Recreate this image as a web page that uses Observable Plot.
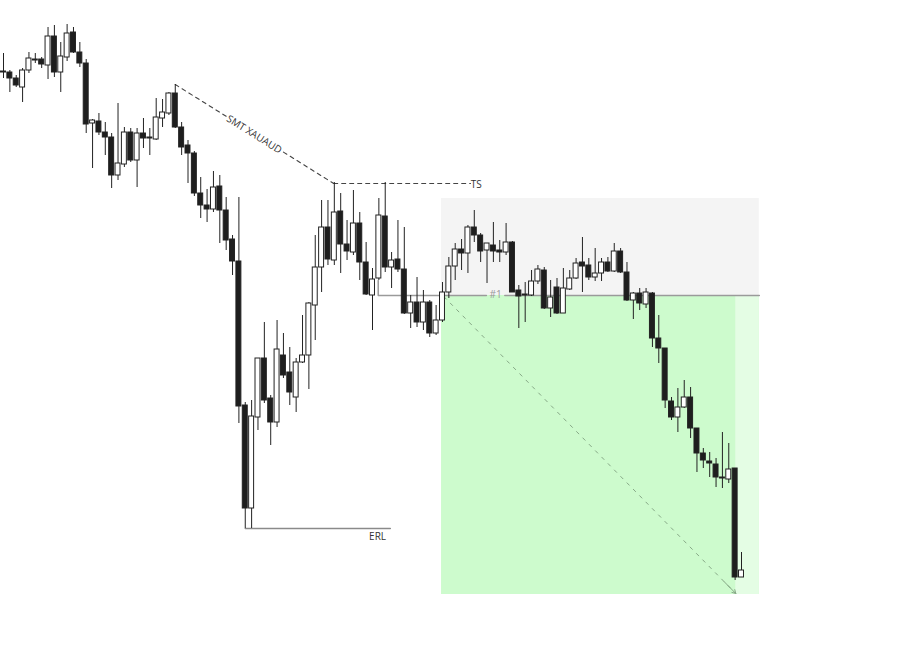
<!DOCTYPE html>
<html>
<head>
<meta charset="utf-8">
<script src="https://cdn.jsdelivr.net/npm/d3@7"></script>
<script src="https://cdn.jsdelivr.net/npm/@observablehq/plot@0.6"></script>
<style>
  html, body { margin: 0; padding: 0; background: #ffffff; }
  #chart svg { display: block; }
</style>
</head>
<body>
<div id="chart"></div>
<script>
// Candle data (price units)
const opens  = [588,588,582,573,590,600,601,595,624,588,603,628,608,597,537,539,528,523,485,496,528,500,527,522,521,542,547,567,533,515,507,467,455,451,474,450,421,399,255,152,243,302,262,238,305,288,263,298,305,355,393,433,400,449,416,408,437,398,365,382,444,393,401,391,347,358,338,358,327,340,368,394,411,407,433,425,410,415,410,408,418,370,365,365,379,390,352,373,347,371,382,398,395,383,387,398,389,409,388,360,367,356,367,322,312,259,243,253,263,232,207,199,196,183,181,192,83];
const highs  = [607,590,585,592,608,607,603,633,635,618,636,633,618,601,541,547,538,527,557,533,532,532,542,532,562,561,568,576,538,520,509,483,471,489,485,463,425,463,258,260,302,338,265,340,327,313,302,345,358,425,460,460,478,467,440,470,448,418,392,462,478,408,440,433,365,383,370,360,355,378,403,417,421,435,450,427,417,438,420,437,419,375,378,390,395,393,380,382,392,390,402,423,402,412,402,403,417,412,398,368,372,372,368,345,312,263,272,280,273,232,212,208,202,228,217,192,108];
const lows   = [582,568,573,558,587,597,592,581,583,568,599,607,593,527,492,525,505,472,480,493,498,473,512,505,520,533,545,532,505,477,464,442,438,448,417,410,385,237,132,132,230,257,215,233,282,255,248,297,271,320,368,395,395,387,400,405,380,365,330,380,388,372,388,346,332,333,330,323,325,338,362,380,390,387,418,398,377,398,398,405,368,332,338,364,376,351,343,346,347,370,381,368,380,379,379,388,388,387,359,341,350,352,313,297,252,240,228,252,222,188,192,183,173,172,177,80,83];
const closes = [589,582,575,590,602,601,596,624,588,604,627,608,597,536,540,528,523,485,497,528,500,527,522,523,543,548,567,533,513,507,467,455,451,473,450,420,399,254,152,244,302,260,238,311,285,268,298,305,357,393,433,401,448,416,409,437,398,366,381,445,393,400,391,347,358,338,358,327,340,368,394,411,407,433,425,409,417,409,408,418,368,364,366,379,391,352,363,347,372,382,397,394,383,387,398,389,409,388,360,367,357,368,322,312,260,243,253,263,232,207,200,197,183,182,191,83,90];

// Annotation levels (candle index / price units)
const smtLineA  = [{i: 27, p: 576}, {i: 35.0, p: 544.2}];
const smtLineB  = [{i: 44.0, p: 508.4}, {i: 51.9, p: 477}];
const tsLine    = [{i: 51.9, p: 477}, {i: 73.4, p: 477}];
const erlLine   = [{i: 38, p: 132}, {i: 60.8, p: 132}];
const entryLineA = [{i: 58.9, p: 380}, {i: 58.9, p: 365}, {i: 75.9, p: 365}];
const entryLineB = [{i: 78.8, p: 365}, {i: 118.8, p: 365}];
const riskBox   = [{x1: 68.85, x2: 118.8, y1: 365, y2: 462}];
const rewardBox = [{x1: 68.85, x2: 118.8, y1: 66, y2: 365}];
const rewardTail = [{x1: 115.1, x2: 118.8, y1: 66, y2: 365}];
const targetPath = {x1: 69.2, y1: 364, x2: 115.1, y2: 67};
const labels = [
  {i: 39.4, p: 526, text: "SMT XAUAUD", rotate: 32, anchor: "middle", color: "#333"},
  {i: 74.3, p: 476, text: "TS", rotate: 0, anchor: "start", color: "#333"},
  {i: 77.35, p: 366, text: "#1", rotate: 0, anchor: "middle", color: "#999"},
  {i: 58.8, p: 124, text: "ERL", rotate: 0, anchor: "middle", color: "#333"}
];

const candles = opens.map((o, i) => ({
  i, open: o, high: highs[i], low: lows[i], close: closes[i],
  up: closes[i] >= o
}));

const t = 0.04;
const arrowTip = [{
  x1: targetPath.x2 - (targetPath.x2 - targetPath.x1) * t,
  y1: targetPath.y2 - (targetPath.y2 - targetPath.y1) * t,
  x2: targetPath.x2, y2: targetPath.y2
}];

const chart = Plot.plot({
  width: 918,
  height: 660,
  margin: 0,
  style: {background: "#ffffff", fontFamily: "'Open Sans', 'Liberation Sans', sans-serif"},
  x: {type: "linear", domain: [0, 116], range: [3, 741], axis: null},
  y: {type: "linear", domain: [0, 660], range: [660, 0], axis: null},
  marks: [
    Plot.rect(riskBox, {x1: "x1", x2: "x2", y1: "y1", y2: "y2", fill: "#f4f4f4"}),
    Plot.rect(rewardBox, {x1: "x1", x2: "x2", y1: "y1", y2: "y2", fill: "#cdfbcd"}),
    Plot.rect(rewardTail, {x1: "x1", x2: "x2", y1: "y1", y2: "y2", fill: "#e4fde4"}),
    Plot.line(entryLineA, {x: "i", y: "p", stroke: "#9a9a9a", strokeWidth: 1.5}),
    Plot.line(entryLineB, {x: "i", y: "p", stroke: "#9a9a9a", strokeWidth: 1.5}),
    Plot.line(erlLine, {x: "i", y: "p", stroke: "#8a8a8a", strokeWidth: 1.5}),
    Plot.line(smtLineA, {x: "i", y: "p", stroke: "#444", strokeWidth: 1.1, strokeDasharray: "4,4"}),
    Plot.line(smtLineB, {x: "i", y: "p", stroke: "#444", strokeWidth: 1.1, strokeDasharray: "4,4"}),
    Plot.line(tsLine, {x: "i", y: "p", stroke: "#444", strokeWidth: 1.1, strokeDasharray: "4,4"}),
    Plot.link([targetPath], {x1: "x1", y1: "y1", x2: "x2", y2: "y2", stroke: "#86a886", strokeWidth: 1, strokeDasharray: "4,5"}),
    Plot.arrow(arrowTip, {x1: "x1", y1: "y1", x2: "x2", y2: "y2", stroke: "#86a886", strokeWidth: 1, headLength: 6}),
    Plot.ruleX(candles, {x: "i", y1: "low", y2: "high", stroke: "#222", strokeWidth: 1}),
    Plot.rect(candles, {
      x1: d => d.i - 0.39, x2: d => d.i + 0.39,
      y1: d => Math.min(d.open, d.close), y2: d => Math.max(d.open, d.close),
      fill: d => d.up ? "#ffffff" : "#1e1e1e",
      stroke: "#222", strokeWidth: 1
    }),
    Plot.text(labels.filter(d => d.rotate), {x: "i", y: "p", text: "text", rotate: 32, fill: "#333", fontSize: 10}),
    Plot.text(labels.filter(d => !d.rotate), {x: "i", y: "p", text: "text", textAnchor: d => d.anchor, fill: d => d.color, fontSize: 10})
  ]
});

document.getElementById("chart").appendChild(chart);
</script>
</body>
</html>
